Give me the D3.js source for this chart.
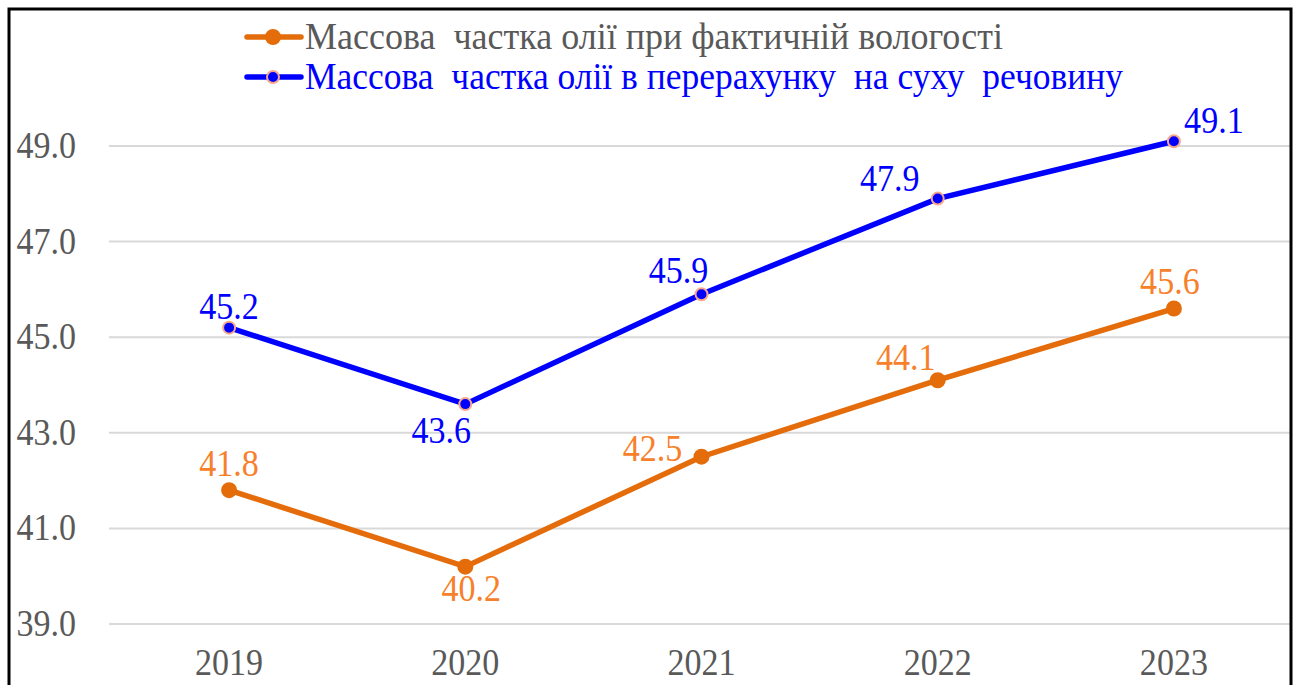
<!DOCTYPE html>
<html>
<head>
<meta charset="utf-8">
<script src="https://cdn.jsdelivr.net/npm/d3@7"></script>
<style>
  body { margin: 0; background: #fff; }
  svg { display: block; }
  text { white-space: pre; }
</style>
</head>
<body>
<div id="chart"></div>
<script>
// data
var years = ["2019", "2020", "2021", "2022", "2023"];
var actualMoisture = [41.8, 40.2, 42.5, 44.1, 45.6];
var dryMatter = [45.2, 43.6, 45.9, 47.9, 49.1];
var yTicks = [39, 41, 43, 45, 47, 49];
var seriesNames = [
  "Массова  частка олії при фактичній вологості",
  "Массова  частка олії в перерахунку  на суху  речовину"
];

// label placement (dx, dy from point) - style only
var orangeLabelPos = [[0, -14], [6, 34], [-49, 4], [-32, -10], [-4, -15]];
var blueLabelPos = [[0, -9], [-24, 39], [-23, -11], [-48, -8], [40, -8]];

var w = 1297, h = 685;
var left = 111, right = 1292;
var font = "'Times New Roman', 'Liberation Serif', Tinos, 'DejaVu Serif', serif";
var fs = 37;

var svg = d3.select("#chart").append("svg")
            .attr("width", w)
            .attr("height", h)
            .style("font-family", font);

svg.append("rect")
   .attr("width", w).attr("height", h)
   .attr("fill", "#fff");

//glyphs in the picture are a bit taller than wide: squeeze horizontally
function narrow(sel){
  sel.each(function(){
    var len = this.getComputedTextLength();
    d3.select(this).attr("textLength", len * 0.92)
                   .attr("lengthAdjust", "spacingAndGlyphs");
  });
}

var x = d3.scaleBand().domain(years).range([left, right]);
var y = d3.scaleLinear().domain([39, 49]).range([624, 146]);

//gridlines
svg.append("g")
   .selectAll("line")
   .data(yTicks)
   .enter().append("line")
   .attr("x1", 109).attr("x2", 1290)
   .attr("y1", function(d){ return y(d); })
   .attr("y2", function(d){ return y(d); })
   .attr("stroke", "#d9d9d9")
   .attr("stroke-width", 2);

//y tick labels
svg.append("g")
   .selectAll("text")
   .data(yTicks)
   .enter().append("text")
   .attr("x", 76)
   .attr("y", function(d){ return y(d) + 12; })
   .attr("text-anchor", "end")
   .attr("font-size", fs)
   .attr("fill", "#595959")
   .text(function(d){ return d3.format(".1f")(d); })
   .call(narrow);

//x labels
svg.append("g")
   .selectAll("text")
   .data(years)
   .enter().append("text")
   .attr("x", function(d){ return x(d) + x.bandwidth()/2; })
   .attr("y", 675)
   .attr("text-anchor", "middle")
   .attr("font-size", fs)
   .attr("fill", "#595959")
   .text(function(d){ return d; })
   .call(narrow);

var cx = function(d, i){ return x(years[i]) + x.bandwidth()/2; };

var series = [
  {values: actualMoisture, line: "#e46c0a", label: "#f7802a", fill: "#e46c0a", stroke: "#e46c0a", r: 7, pos: orangeLabelPos},
  {values: dryMatter, line: "#0000ff", label: "#0000ff", fill: "#0000ff", stroke: "#f8a88a", r: 6, pos: blueLabelPos}
];

var line = d3.line()
             .x(function(d, i){ return cx(d, i); })
             .y(function(d){ return y(d); });

series.forEach(function(s){
  svg.append("path")
     .datum(s.values)
     .attr("d", line)
     .attr("fill", "none")
     .attr("stroke", s.line)
     .attr("stroke-width", 5.5);

  svg.append("g")
     .selectAll("circle")
     .data(s.values)
     .enter().append("circle")
     .attr("cx", cx)
     .attr("cy", function(d){ return y(d); })
     .attr("r", s.r)
     .attr("fill", s.fill)
     .attr("stroke", s.stroke)
     .attr("stroke-width", 2);

  svg.append("g")
     .selectAll("text")
     .data(s.values)
     .enter().append("text")
     .attr("x", function(d, i){ return cx(d, i) + s.pos[i][0]; })
     .attr("y", function(d, i){ return y(d) + s.pos[i][1]; })
     .attr("text-anchor", "middle")
     .attr("font-size", fs)
     .attr("fill", s.label)
     .text(function(d){ return d3.format(".1f")(d); })
     .call(narrow);
});

//legend
var legendY = [37, 77];
var legendText = ["#595959", "#0000ff"];
series.forEach(function(s, i){
  var g = svg.append("g").attr("transform", "translate(0," + legendY[i] + ")");
  g.append("line")
   .attr("x1", 247).attr("x2", 301)
   .attr("stroke", s.line)
   .attr("stroke-width", 5.5)
   .attr("stroke-linecap", "round");
  g.append("circle")
   .attr("cx", 273)
   .attr("r", s.r)
   .attr("fill", s.fill)
   .attr("stroke", s.stroke)
   .attr("stroke-width", 2);
  g.append("text")
   .attr("x", 305)
   .attr("y", 12)
   .attr("font-size", fs)
   .attr("fill", legendText[i])
   .attr("textLength", i == 0 ? 698 : 818)
   .attr("lengthAdjust", "spacingAndGlyphs")
   .text(seriesNames[i]);
});

//frame
svg.append("rect")
   .attr("x", 9).attr("y", 9)
   .attr("width", 1282).attr("height", 700)
   .attr("fill", "none")
   .attr("stroke", "#000")
   .attr("stroke-width", 3);
</script>
</body>
</html>
